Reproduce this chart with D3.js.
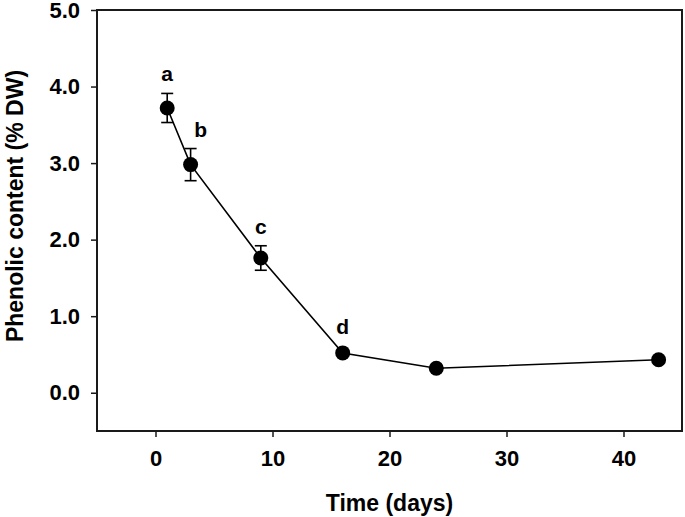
<!DOCTYPE html>
<html><head><meta charset="utf-8">
<script src="https://cdn.jsdelivr.net/npm/d3@7"></script>
<style>body{margin:0;background:#fff}svg{display:block}text{font-family:"Liberation Sans",Arial,sans-serif;font-weight:bold;fill:#000}</style>
</head><body><svg id="c" width="685" height="517"></svg>
<script>
const days = [1, 3, 9, 16, 24, 43];
const phenolic = [3.72, 2.98, 1.76, 0.52, 0.32, 0.43];
const errors = [0.19, 0.21, 0.16, 0.03, 0.03, 0.03];
const letters = ["a", "b", "c", "d", "", ""];
const xTicks = [0, 10, 20, 30, 40];
const yTicks = [0, 1, 2, 3, 4, 5];

const svg = d3.select("#c");
const L = 97, R = 682, T = 10, B = 431;
const x = d3.scaleLinear().domain([-5, 45]).range([L, R]);
const y = d3.scaleLinear().domain([-0.5, 5]).range([B, T]);

// frame
svg.append("rect").attr("x", L).attr("y", T).attr("width", R - L).attr("height", B - T)
  .attr("fill", "none").attr("stroke", "#1a1a1a").attr("stroke-width", 2);

const xa = svg.append("g").attr("transform", `translate(0,${B})`)
  .call(d3.axisBottom(x).tickValues(xTicks).tickSize(6).tickPadding(13).tickFormat(d3.format("d")));
const ya = svg.append("g").attr("transform", `translate(${L},0)`)
  .call(d3.axisLeft(y).tickValues(yTicks).tickSize(6).tickPadding(11).tickFormat(d3.format(".1f")));
[xa, ya].forEach(g => {
  g.select(".domain").remove();
  g.selectAll(".tick line").attr("stroke", "#1a1a1a").attr("stroke-width", 1.5);
  g.selectAll(".tick text").style("font-size", "22px").style("font-family", "'Liberation Sans',Arial,sans-serif").style("font-weight", "bold").attr("fill", "#000");
});

// titles
svg.append("text").attr("x", (L + R) / 2).attr("y", 511).attr("text-anchor", "middle")
  .style("font-size", "23px").text("Time (days)");
svg.append("text").attr("transform", `translate(23,206) rotate(-90)`).attr("text-anchor", "middle")
  .style("font-size", "23px").text("Phenolic content (% DW)");

const data = days.map((d, i) => ({d, v: phenolic[i], e: errors[i], l: letters[i]}));

// line
svg.append("path").datum(data).attr("fill", "none").attr("stroke", "#000").attr("stroke-width", 1.6)
  .attr("d", d3.line().x(p => x(p.d)).y(p => y(p.v)));

// error bars
const eb = svg.append("g").attr("stroke", "#000").attr("stroke-width", 1.6);
data.forEach(p => {
  eb.append("line").attr("x1", x(p.d)).attr("x2", x(p.d)).attr("y1", y(p.v + p.e)).attr("y2", y(p.v - p.e));
  [p.v + p.e, p.v - p.e].forEach(v => eb.append("line").attr("x1", x(p.d) - 6).attr("x2", x(p.d) + 6).attr("y1", y(v)).attr("y2", y(v)));
});

// markers
svg.append("g").selectAll("circle").data(data).join("circle")
  .attr("cx", p => x(p.d)).attr("cy", p => y(p.v)).attr("r", 7.5).attr("fill", "#000");

// letters
const dxs = [0, 10, 0, 0, 0, 0];
svg.append("g").selectAll("text").data(data).join("text")
  .attr("x", (p, i) => x(p.d) + dxs[i]).attr("y", (p, i) => y(p.v + p.e) - (i === 3 ? 17 : 12))
  .attr("text-anchor", "middle").style("font-size", "21px").text(p => p.l);
</script></body></html>
